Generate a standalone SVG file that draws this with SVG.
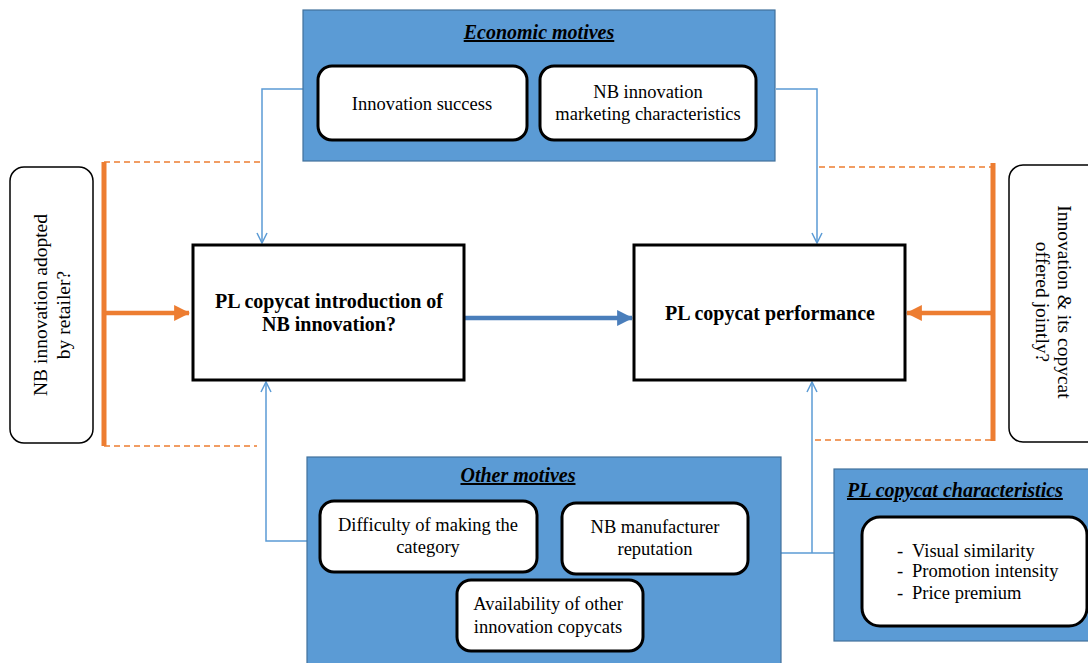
<svg xmlns="http://www.w3.org/2000/svg" width="1088" height="663" viewBox="0 0 1088 663">
<style>
  .panel { fill: #5B9BD5; stroke: #41719C; stroke-width: 1.2; }
  .sub { fill: #ffffff; stroke: #000000; stroke-width: 3; }
  .main { fill: #ffffff; stroke: #000000; stroke-width: 3; }
  .side { fill: #ffffff; stroke: #000000; stroke-width: 1.5; }
  .t { font-family: "Liberation Serif", "Times New Roman", serif; font-size: 18.5px; fill: #000; }
  .tr { font-family: "Liberation Serif", "Times New Roman", serif; font-size: 19.5px; fill: #000; }
  .tb { font-family: "Liberation Serif", "Times New Roman", serif; font-size: 20px; font-weight: bold; fill: #000; }
  .title { font-family: "Liberation Serif", "Times New Roman", serif; font-size: 20px; font-weight: bold; font-style: italic; text-decoration: underline; fill: #000; }
  .c { text-anchor: middle; }
  .thin { fill: none; stroke: #5B9BD5; stroke-width: 1.5; }
  .dash { fill: none; stroke: #ED7D31; stroke-width: 1.5; stroke-dasharray: 6 4; }
  .obar { fill: none; stroke: #ED7D31; stroke-width: 5; }
  .oarrow { fill: none; stroke: #ED7D31; stroke-width: 4.5; }
  .barrow { fill: none; stroke: #4A7EBB; stroke-width: 4.5; }
</style>
<defs>
  <marker id="open" viewBox="0 0 12 12" refX="11" refY="6" markerWidth="12" markerHeight="12" markerUnits="userSpaceOnUse" orient="auto">
    <path d="M1,1 L11,6 L1,11" fill="none" stroke="#5B9BD5" stroke-width="1.5"/>
  </marker>
  <marker id="ohead" viewBox="0 0 14 14" refX="13" refY="7" markerWidth="16" markerHeight="16" markerUnits="userSpaceOnUse" orient="auto">
    <path d="M0,0 L14,7 L0,14 Z" fill="#ED7D31"/>
  </marker>
  <marker id="bhead" viewBox="0 0 14 14" refX="13" refY="7" markerWidth="16" markerHeight="16" markerUnits="userSpaceOnUse" orient="auto">
    <path d="M0,0 L14,7 L0,14 Z" fill="#4A7EBB"/>
  </marker>
</defs>

<g id="connectors">
  <path class="thin" d="M303,89 H262 V243" marker-end="url(#open)"/>
  <path class="thin" d="M776,89 H817 V243" marker-end="url(#open)"/>
  <path class="thin" d="M307,541 H266 V382" marker-end="url(#open)"/>
  <path class="thin" d="M781,553 H834"/>
  <path class="thin" d="M812,553 V382" marker-end="url(#open)"/>
  <path class="dash" d="M104,162 H262"/>
  <path class="dash" d="M104,446 H257"/>
  <path class="dash" d="M819,167 H993"/>
  <path class="dash" d="M815,440 H993"/>
  <path class="obar" d="M104,162 V446"/>
  <path class="obar" d="M993,163 V441"/>
  <path class="oarrow" d="M104,313 H189" marker-end="url(#ohead)"/>
  <path class="oarrow" d="M993,313 H907" marker-end="url(#ohead)"/>
  <path class="barrow" d="M465,318 H632" marker-end="url(#bhead)"/>
</g>

<g id="economic-motives">
  <rect class="panel" x="303" y="10" width="472" height="151"/>
  <text class="title c" x="539" y="39">Economic motives</text>
</g>
<g id="innovation-success">
  <rect class="sub" x="318" y="66" width="209" height="74" rx="14"/>
  <text class="t c" x="422" y="110">Innovation success</text>
</g>
<g id="nb-innovation-marketing">
  <rect class="sub" x="540" y="66" width="216" height="74" rx="14"/>
  <text class="t c" x="648" y="98">NB innovation</text>
  <text class="t c" x="648" y="120">marketing characteristics</text>
</g>

<g id="nb-adopted">
  <rect class="side" x="10" y="167" width="83" height="276" rx="14"/>
  <text class="tr c" transform="translate(47,305) rotate(-90)">NB innovation adopted</text>
  <text class="tr c" transform="translate(70,315) rotate(-90)">by retailer?</text>
</g>

<g id="pl-introduction">
  <rect class="main" x="193" y="245" width="271" height="135"/>
  <text class="tb c" x="329" y="308">PL copycat introduction of</text>
  <text class="tb c" x="329" y="331">NB innovation?</text>
</g>

<g id="pl-performance">
  <rect class="main" x="634" y="245" width="271" height="135"/>
  <text class="tb c" x="770" y="320">PL copycat performance</text>
</g>

<g id="offered-jointly">
  <rect class="side" x="1009" y="165" width="95" height="277" rx="14"/>
  <text class="tr c" transform="translate(1058,302) rotate(90)">Innovation &amp; its copycat</text>
  <text class="tr c" transform="translate(1036,302) rotate(90)">offered jointly?</text>
</g>

<g id="other-motives">
  <rect class="panel" x="307" y="457" width="474" height="215"/>
  <text class="title c" x="518" y="482">Other motives</text>
</g>
<g id="difficulty">
  <rect class="sub" x="320" y="501" width="217" height="71" rx="14"/>
  <text class="t c" x="428" y="531">Difficulty of making the</text>
  <text class="t c" x="428" y="553">category</text>
</g>
<g id="nb-reputation">
  <rect class="sub" x="562" y="503" width="186" height="71" rx="14"/>
  <text class="t c" x="655" y="533">NB manufacturer</text>
  <text class="t c" x="655" y="555">reputation</text>
</g>
<g id="availability">
  <rect class="sub" x="457" y="580" width="186" height="71" rx="14"/>
  <text class="t c" x="548" y="610">Availability of other</text>
  <text class="t c" x="548" y="633">innovation copycats</text>
</g>

<g id="pl-characteristics">
  <rect class="panel" x="834" y="469" width="260" height="172"/>
  <text class="title" x="847" y="497">PL copycat characteristics</text>
</g>
<g id="pl-characteristics-list">
  <rect class="sub" x="862" y="517" width="225" height="109" rx="18"/>
  <text class="t" x="897" y="557">-</text>
  <text class="t" x="912" y="557">Visual similarity</text>
  <text class="t" x="897" y="577">-</text>
  <text class="t" x="912" y="577">Promotion intensity</text>
  <text class="t" x="897" y="599">-</text>
  <text class="t" x="912" y="599">Price premium</text>
</g>
</svg>
